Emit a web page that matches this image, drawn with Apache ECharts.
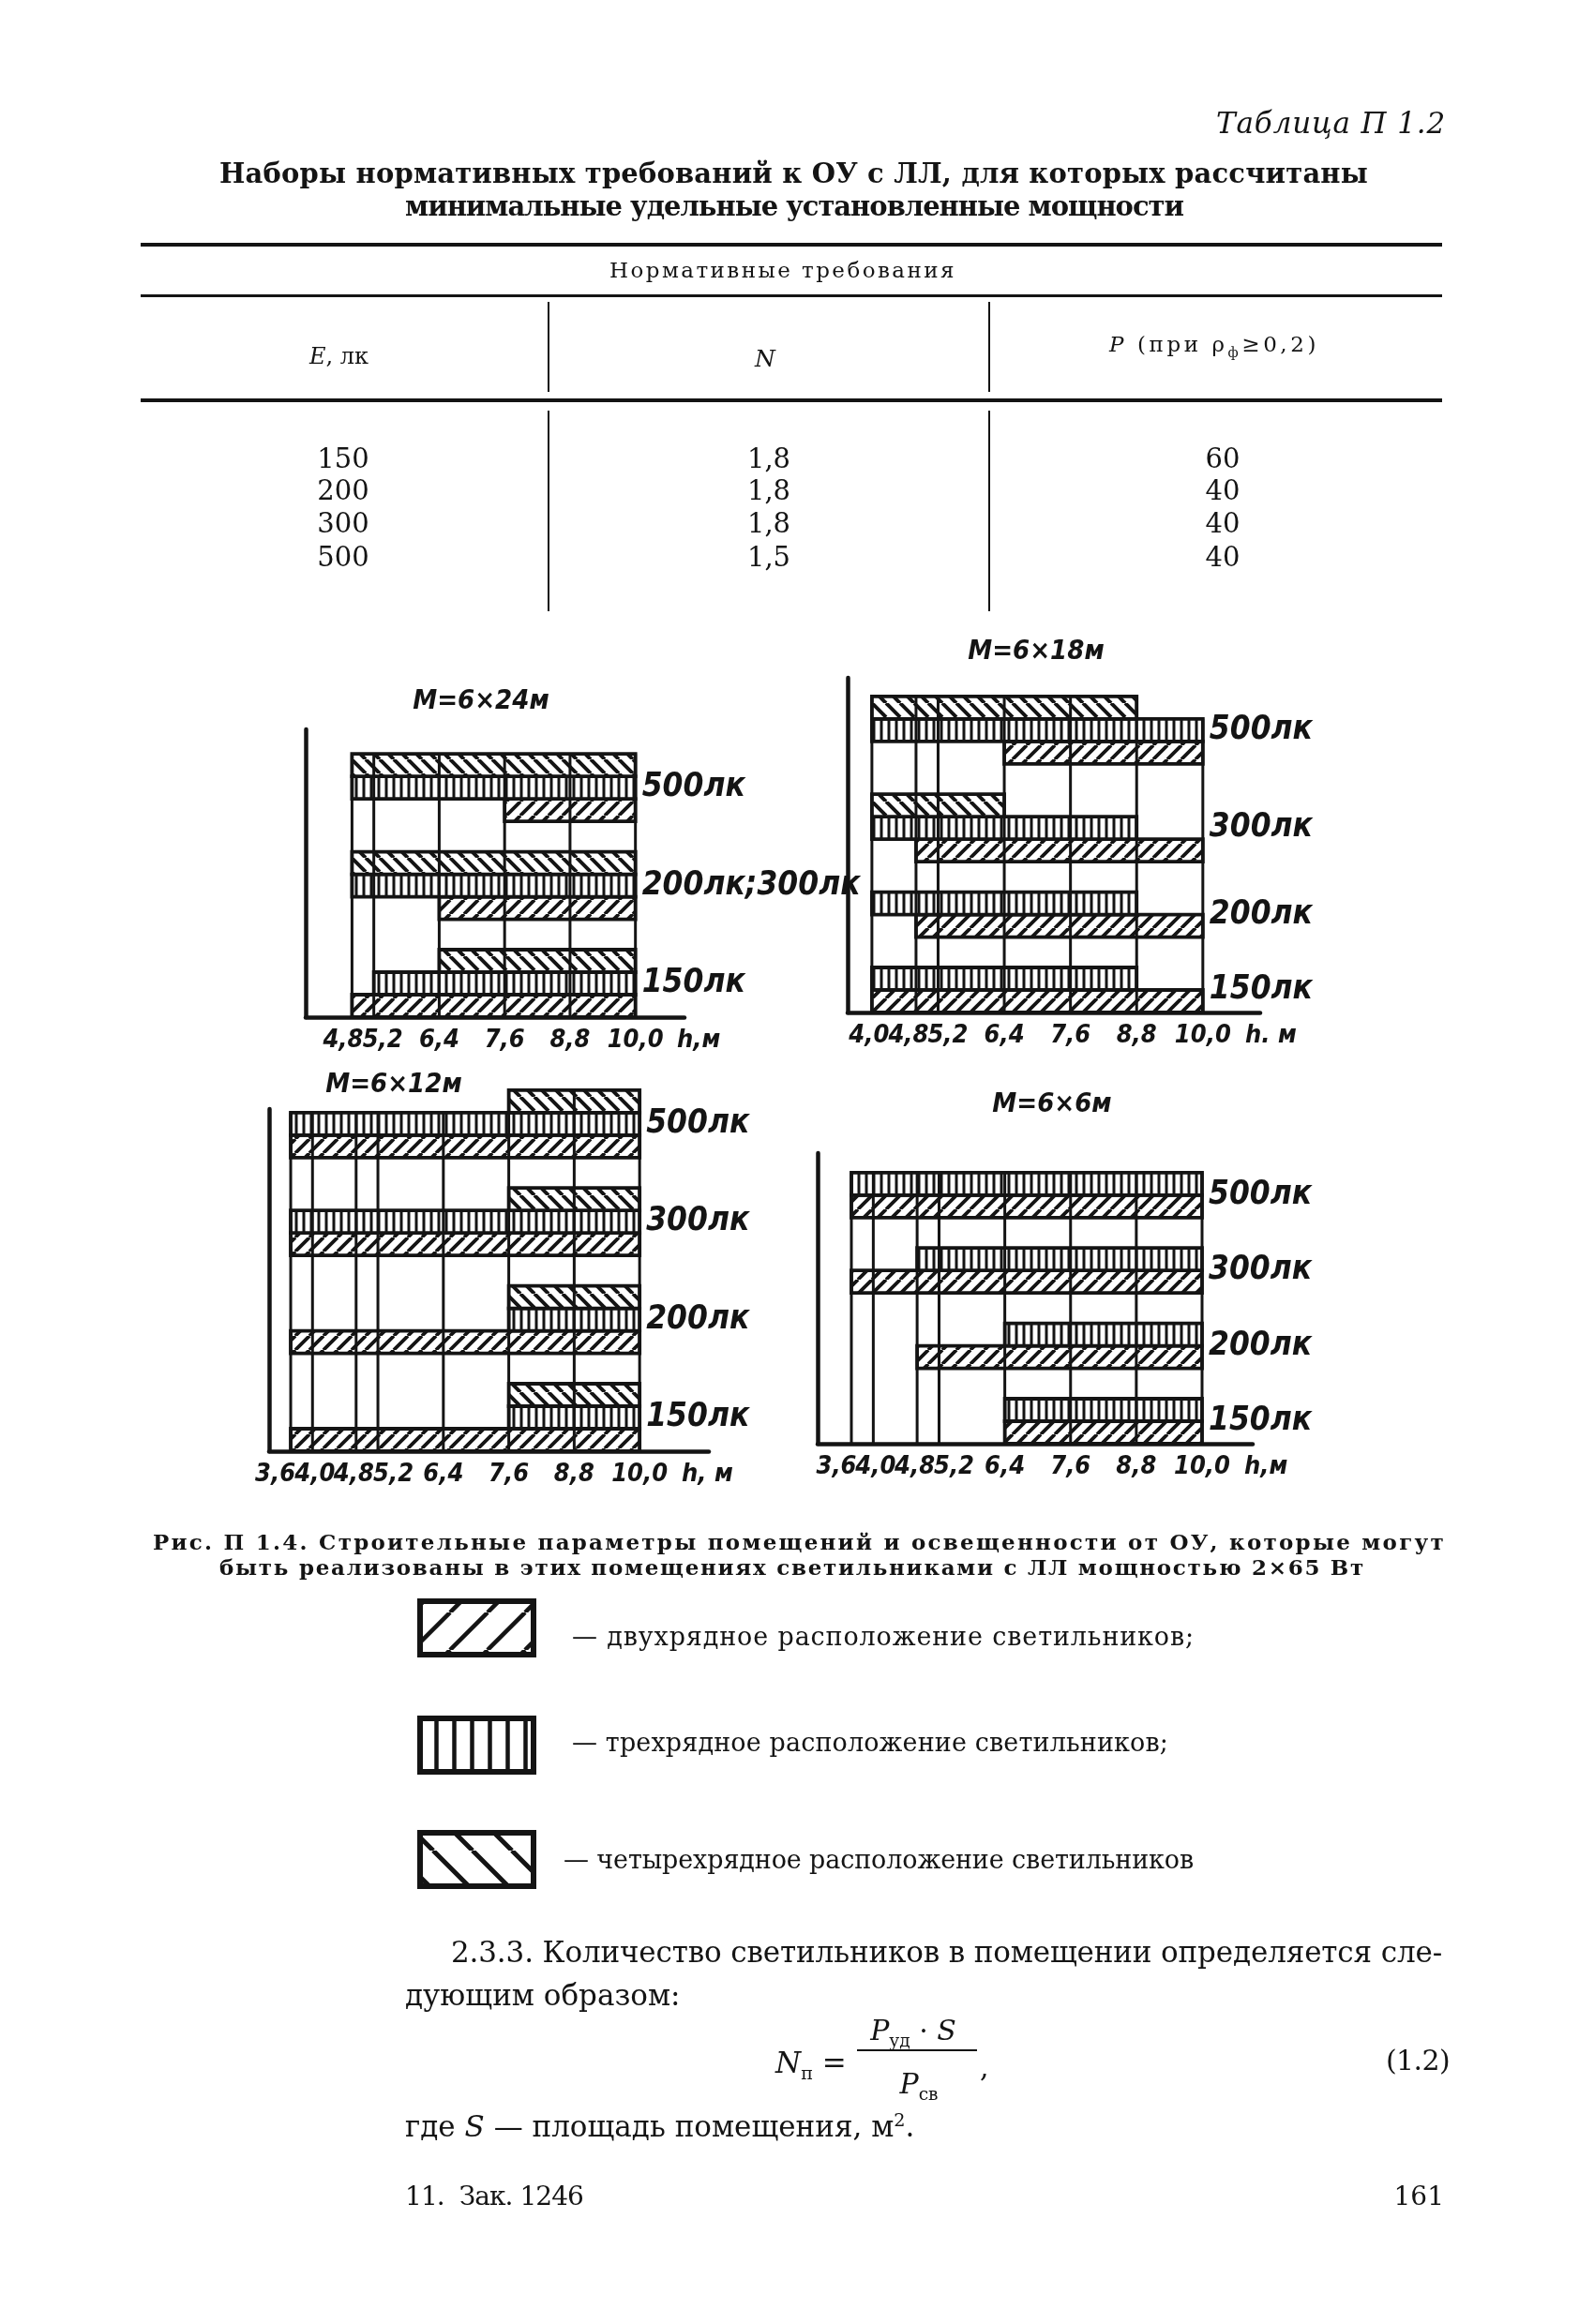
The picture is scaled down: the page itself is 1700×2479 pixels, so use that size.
<!DOCTYPE html>
<html>
<head>
<meta charset="utf-8">
<script src="https://cdn.jsdelivr.net/npm/echarts@6.0.0/dist/echarts.min.js"></script>
<style>
  html, body { margin: 0; padding: 0; background: #fff; }
  #page { position: relative; width: 1700px; height: 2479px; overflow: hidden; background: #fff; }
  #chart { position: absolute; left: 0; top: 0; width: 1700px; height: 2479px; }
  .t { position: absolute; left: 0; top: 0; white-space: nowrap; line-height: 1; color: #141414;
       font-family: "DejaVu Serif", "Liberation Serif", serif; }
  .b { font-weight: bold; }
  .t sub, .t sup { font-size: 0.62em; line-height: 0; }
  .rule { position: absolute; background: #141414; }
</style>
</head>
<body>
<div id="page">
  <div id="chart"></div>

  <!-- таблица П 1.2 -->
  <div class="t" style="font-style:italic" data-rx="1542" data-y="131" data-fs="31" data-w="245">Таблица П 1.2</div>
  <div class="t b" data-x="234" data-y="185" data-fs="29" data-w="1225">Наборы нормативных требований к ОУ с ЛЛ, для которых рассчитаны</div>
  <div class="t b" data-x="432" data-y="220" data-fs="29" data-w="830">минимальные удельные установленные мощности</div>
  <div class="rule" style="left:150px;top:259px;width:1388px;height:4px"></div>
  <div class="t" data-x="650" data-y="288" data-fs="23" data-w="370">Нормативные требования</div>
  <div class="rule" style="left:150px;top:314px;width:1388px;height:3px"></div>
  <div class="rule" style="left:584px;top:322px;width:2px;height:96px"></div>
  <div class="rule" style="left:1054px;top:322px;width:2px;height:96px"></div>
  <div class="t" data-x="330" data-y="380" data-fs="24"><i>E</i>, лк</div>
  <div class="t" data-cx="816" data-y="382" data-fs="25"><i>N</i></div>
  <div class="t" data-x="1183" data-y="367" data-fs="23" data-w="224"><i>P</i> (при ρ<sub>ф</sub>≥0,2)</div>
  <div class="rule" style="left:150px;top:425px;width:1388px;height:4px"></div>
  <div class="rule" style="left:584px;top:438px;width:2px;height:214px"></div>
  <div class="rule" style="left:1054px;top:438px;width:2px;height:214px"></div>

  <!-- подпись к рисунку -->
  <div class="t b" data-x="163" data-y="1644" data-fs="23" data-w="1379">Рис. П 1.4. Строительные параметры помещений и освещенности от ОУ, которые могут</div>
  <div class="t b" data-x="234" data-y="1671" data-fs="23" data-w="1222">быть реализованы в этих помещениях светильниками с ЛЛ мощностью 2×65 Вт</div>

  <!-- текст -->
  <div class="t" data-x="481" data-y="2082" data-fs="31" data-w="1057">2.3.3. Количество светильников в помещении определяется сле-</div>
  <div class="t" data-x="432" data-y="2128" data-fs="31">дующим образом:</div>
  <div class="t" data-x="827" data-y="2200" data-fs="31"><i>N</i><sub>п</sub> =</div>
  <div class="t" data-cx="974" data-y="2166" data-fs="30"><i>P</i><sub>уд</sub> · <i>S</i></div>
  <div class="rule" style="left:914px;top:2186px;width:128px;height:2px"></div>
  <div class="t" data-cx="980" data-y="2223" data-fs="30"><i>P</i><sub>св</sub></div>
  <div class="t" data-x="1045" data-y="2205" data-fs="30">,</div>
  <div class="t" data-x="1478" data-y="2198" data-fs="30" data-w="68">(1.2)</div>
  <div class="t" data-x="432" data-y="2268" data-fs="31">где <i>S</i> — площадь помещения, м<sup>2</sup>.</div>
  <div class="t" data-x="432" data-y="2343" data-fs="28" data-w="190">11.&nbsp; Зак. 1246</div>
  <div class="t" data-rx="1540" data-y="2343" data-fs="28">161</div>
</div>

<script>
// ---- таблица П 1.2 ----
const tableE = [150, 200, 300, 500];
const tableN = ['1,8', '1,8', '1,8', '1,5'];
const tableP = [60, 40, 40, 40];

// ---- рис. П 1.4: шкала высот h, м ----
const ticks24 = [4.8, 5.2, 6.4, 7.6, 8.8, 10.0];
const ticks18 = [4.0, 4.8, 5.2, 6.4, 7.6, 8.8, 10.0];
const ticks12 = [3.6, 4.0, 4.8, 5.2, 6.4, 7.6, 8.8, 10.0];
const ticks6 = [3.6, 4.0, 4.8, 5.2, 6.4, 7.6, 8.8, 10.0];

// диапазоны h [от, до] по уровням освещенности (сверху вниз); null - нет
const levels24 = ['500лк', '200лк;300лк', '150лк'];
const four24 = [[4.8, 10.0], [4.8, 10.0], [6.4, 10.0]];
const three24 = [[4.8, 10.0], [4.8, 10.0], [5.2, 10.0]];
const two24 = [[7.6, 10.0], [6.4, 10.0], [4.8, 10.0]];

const levels18 = ['500лк', '300лк', '200лк', '150лк'];
const four18 = [[4.0, 8.8], [4.0, 6.4], null, null];
const three18 = [[4.0, 10.0], [4.0, 8.8], [4.0, 8.8], [4.0, 8.8]];
const two18 = [[6.4, 10.0], [4.8, 10.0], [4.8, 10.0], [4.0, 10.0]];

const levels12 = ['500лк', '300лк', '200лк', '150лк'];
const four12 = [[7.6, 10.0], [7.6, 10.0], [7.6, 10.0], [7.6, 10.0]];
const three12 = [[3.6, 10.0], [3.6, 10.0], [7.6, 10.0], [7.6, 10.0]];
const two12 = [[3.6, 10.0], [3.6, 10.0], [3.6, 10.0], [3.6, 10.0]];

const levels6 = ['500лк', '300лк', '200лк', '150лк'];
const four6 = [null, null, null, null];
const three6 = [[3.6, 10.0], [4.8, 10.0], [6.4, 10.0], [6.4, 10.0]];
const two6 = [[3.6, 10.0], [3.6, 10.0], [4.8, 10.0], [6.4, 10.0]];

const kindNames = ['двухрядное расположение светильников;', 'трехрядное расположение светильников;',
  'четырехрядное расположение светильников'];

const INK = '#141414';
const ROW_PX = 24;   // высота полосы
const GAP = 1.35;    // промежуток между группами, в полосах
const LABEL_SPACING = 42; // мин. расстояние между подписями шкалы, px
const FONT_DRAW = '"DejaVu Sans Condensed", "DejaVu Sans", sans-serif';

const charts = [
  { title: 'М=6×24м', unit: 'h,м', ticks: ticks24, levels: levels24, four: four24, three: three24, two: two24,
    min: 3.95, max: 10.9, left: 326, top: 778, width: 404, height: 307, tx: 513, ty: 748, nameGap: -8 },
  { title: 'М=6×18м', unit: 'h. м', ticks: ticks18, levels: levels18, four: four18, three: three18, two: two18,
    min: 3.56, max: 11.04, left: 904, top: 723, width: 440, height: 357, tx: 1105, ty: 695, nameGap: -16 },
  { title: 'М=6×12м', unit: 'h, м', ticks: ticks12, levels: levels12, four: four12, three: three12, two: two12,
    min: 3.204, max: 11.27, left: 287, top: 1183, width: 469, height: 365, tx: 420, ty: 1157, nameGap: -29 },
  { title: 'М=6×6м', unit: 'h,м', ticks: ticks6, levels: levels6, four: four6, three: three6, two: two6,
    min: 2.984, max: 10.924, left: 872, top: 1230, width: 464, height: 310, tx: 1122, ty: 1178, nameGap: -9 }
];

// штриховки
function hatch(kind, step, lw) {
  const c = document.createElement('canvas');
  c.width = step; c.height = step;
  const g = c.getContext('2d');
  g.fillStyle = '#fff'; g.fillRect(0, 0, step, step);
  g.fillStyle = INK; g.strokeStyle = INK; g.lineWidth = lw;
  if (kind === 1) {
    g.fillRect(step / 2 - lw / 2, 0, lw, step);
  } else {
    g.beginPath();
    for (let k = -1; k <= 1; k++) {
      if (kind === 0) { g.moveTo(k * step, step); g.lineTo(k * step + step, 0); }
      else { g.moveTo(k * step, 0); g.lineTo(k * step + step, step); }
    }
    g.stroke();
  }
  return { image: c, repeat: 'repeat' };
}
const barFill = [hatch(0, 15, 3.8), hatch(1, 8, 3), hatch(2, 15, 4)];
const legendFill = [hatch(0, 40, 4.5), hatch(1, 19, 4.5), hatch(2, 42, 5)];

// раскладка полос: снизу вверх, внутри группы 2-, 3-, 4-рядное
function buildRows(c) {
  const rows = [], groups = [];
  let y = 0;
  for (let g = c.levels.length - 1; g >= 0; g--) {
    const y0 = y;
    [c.two[g], c.three[g], c.four[g]].forEach((r, kind) => {
      if (!r) return;
      rows.push([r[0], r[1], y, kind]);
      y += 1;
    });
    groups.push([c.ticks[c.ticks.length - 1], (y0 + y) / 2, c.levels[g]]);
    y += GAP;
  }
  const lines = c.ticks.map(t => {
    let top = 0;
    rows.forEach(r => { if (r[0] <= t + 1e-6 && r[1] >= t - 1e-6) top = Math.max(top, r[2] + 1); });
    return [t, top];
  });
  return { rows, groups, lines };
}

const fmt = v => v.toFixed(1).replace('.', ',');
const tickFont = { color: INK, fontSize: 27, fontStyle: 'italic', fontWeight: 'bold', fontFamily: FONT_DRAW };

// раздвигаем тесные подписи шкалы: смещение каждой подписи в px
function labelShifts(c) {
  const k = c.width / (c.max - c.min);
  const base = c.ticks.map(t => (t - c.min) * k);
  const p = base.slice();
  for (let it = 0; it < 200; it++) {
    for (let i = 0; i < p.length - 1; i++) {
      const d = p[i + 1] - p[i];
      if (d < LABEL_SPACING) { const m = (LABEL_SPACING - d) / 2; p[i] -= m; p[i + 1] += m; }
    }
  }
  return p.map((v, i) => v - base[i]);
}

const grid = [], xAxis = [], yAxis = [], series = [], graphic = [];
charts.forEach((c, i) => {
  const lay = buildRows(c);
  const shifts = labelShifts(c);
  const rich = {};
  shifts.forEach((s, j) => {
    const pad = Math.round(Math.abs(s) * 2);
    rich['s' + j] = Object.assign({ padding: s < 0 ? [0, pad, 0, 0] : [0, 0, 0, pad] }, tickFont);
  });
  grid.push({ left: c.left, top: c.top, width: c.width, height: c.height, outerBoundsMode: 'none' });
  xAxis.push({
    gridIndex: i, type: 'value', min: c.min, max: c.max,
    name: c.unit, nameLocation: 'end', nameGap: c.nameGap,
    nameTextStyle: Object.assign({ align: 'left', verticalAlign: 'top', padding: [11, 0, 0, 0] }, tickFont),
    axisLine: { show: true, onZero: false, lineStyle: { color: INK, width: 4.5 } },
    axisTick: { show: false }, splitLine: { show: false },
    axisLabel: Object.assign({
      // пустые значения на краях оси, чтобы крайние подписи шкалы не скрывались
      customValues: [c.min].concat(c.ticks, [c.max]),
      margin: 11, hideOverlap: false,
      formatter: v => {
        const j = c.ticks.findIndex(t => Math.abs(t - v) < 1e-6);
        return j < 0 ? '' : '{s' + j + '|' + fmt(v) + '}';
      },
      rich: rich
    }, tickFont)
  });
  yAxis.push({
    gridIndex: i, type: 'value', min: 0, max: c.height / ROW_PX,
    axisLine: { show: true, onZero: false, lineStyle: { color: INK, width: 4.5 } },
    axisTick: { show: false }, axisLabel: { show: false }, splitLine: { show: false }
  });
  series.push({
    type: 'custom', xAxisIndex: i, yAxisIndex: i, silent: true, z: 2,
    encode: { x: [0, 1], y: 2 },
    data: lay.rows,
    renderItem: (params, api) => {
      const p0 = api.coord([api.value(0), api.value(2) + 1]);
      const p1 = api.coord([api.value(1), api.value(2)]);
      return {
        type: 'rect',
        shape: { x: p0[0], y: p0[1], width: p1[0] - p0[0], height: p1[1] - p0[1] },
        style: { fill: barFill[lay.rows[params.dataIndex][3]], stroke: INK, lineWidth: 3.8 }
      };
    }
  });
  series.push({
    type: 'custom', xAxisIndex: i, yAxisIndex: i, silent: true, z: 3,
    data: lay.lines,
    renderItem: (params, api) => {
      const a = api.coord([api.value(0), 0]);
      const b = api.coord([api.value(0), api.value(1)]);
      return { type: 'line', shape: { x1: a[0], y1: a[1], x2: b[0], y2: b[1] },
        style: { stroke: INK, lineWidth: 3 } };
    }
  });
  series.push({
    type: 'custom', xAxisIndex: i, yAxisIndex: i, silent: true, z: 4,
    data: lay.groups.map(g => [g[0], g[1]]),
    renderItem: (params, api) => {
      const p = api.coord([api.value(0), api.value(1)]);
      return { type: 'text', x: p[0] + 7, y: p[1],
        style: { text: lay.groups[params.dataIndex][2], fill: INK,
          font: 'italic bold 35px ' + FONT_DRAW,
          align: 'left', verticalAlign: 'middle', textAlign: 'left', textVerticalAlign: 'middle' } };
    }
  });
  graphic.push({ type: 'text', x: c.tx, y: c.ty, silent: true,
    style: { text: c.title, fill: INK, font: 'italic bold 29px ' + FONT_DRAW,
      align: 'center', verticalAlign: 'middle', textAlign: 'center', textVerticalAlign: 'middle' } });
});

// условные обозначения
const legendY = [1708, 1833, 1955];
legendY.forEach((y, k) => {
  graphic.push({ type: 'rect', silent: true, shape: { x: 448, y: y, width: 121, height: 57 },
    style: { fill: legendFill[k], stroke: INK, lineWidth: 6 } });
});

const chart = echarts.init(document.getElementById('chart'), null, { renderer: 'canvas' });
chart.setOption({ animation: false, backgroundColor: 'transparent', grid, xAxis, yAxis, series, graphic });

// ---- текстовые строки страницы ----
const page = document.getElementById('page');
const rowY = [489, 523, 558, 594];
tableE.forEach((e, k) => {
  [[366, e], [820, tableN[k]], [1304, tableP[k]]].forEach(([cx, v]) => {
    const d = document.createElement('div');
    d.className = 't'; d.dataset.cx = cx; d.dataset.y = rowY[k]; d.dataset.fs = 29;
    d.textContent = v; page.appendChild(d);
  });
});
const legendTextPos = [[610, 1745, 664], [610, 1858, 636], [601, 1983, 672]];
kindNames.forEach((n, k) => {
  const d = document.createElement('div');
  d.className = 't';
  d.dataset.x = legendTextPos[k][0]; d.dataset.y = legendTextPos[k][1];
  d.dataset.w = legendTextPos[k][2]; d.dataset.fs = 27;
  d.textContent = '— ' + n; page.appendChild(d);
});

document.querySelectorAll('.t').forEach(el => {
  const d = el.dataset;
  el.style.fontSize = (d.fs || 30) + 'px';
  let r = el.getBoundingClientRect();
  if (d.w) {
    const n = el.textContent.length;
    el.style.letterSpacing = Math.max(-2, (+d.w - r.width) / n) + 'px';
    r = el.getBoundingClientRect();
  }
  let x = +d.x;
  if (d.cx) x = +d.cx - r.width / 2;
  if (d.rx) x = +d.rx - r.width;
  el.style.left = x + 'px';
  el.style.top = (+d.y - r.height / 2) + 'px';
});
</script>
</body>
</html>
